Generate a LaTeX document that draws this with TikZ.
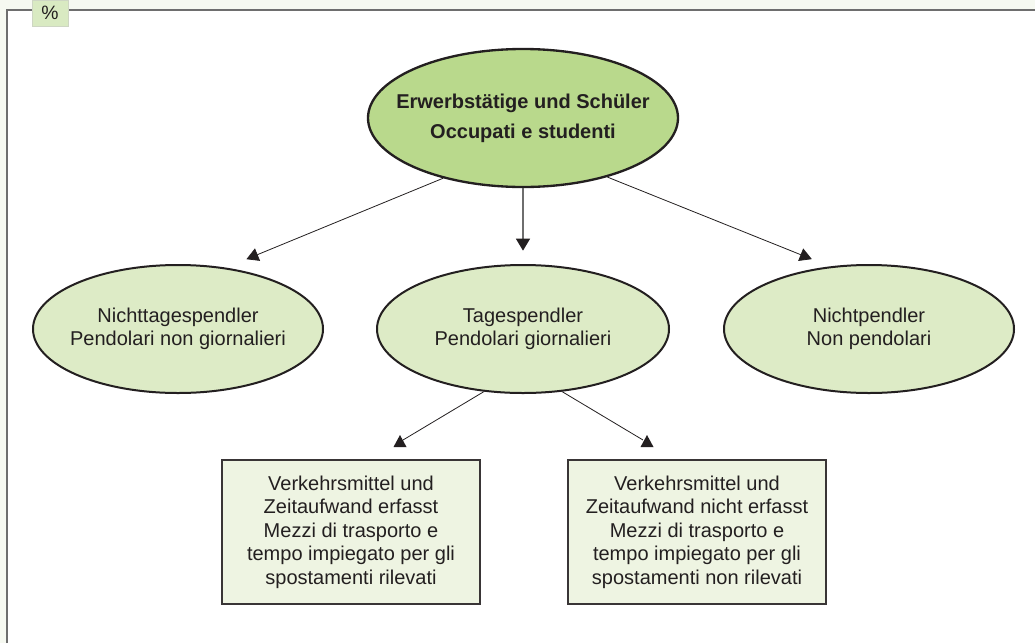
\documentclass[tikz,border=0pt]{standalone}
\usepackage{fontspec}
\setmainfont{Liberation Sans}
\usetikzlibrary{shapes.geometric,arrows.meta}
\definecolor{ink}{HTML}{231F20}
\definecolor{pagebg}{HTML}{F6F9F1}
\definecolor{framegray}{HTML}{6E6E6E}
\definecolor{tabgreen}{HTML}{D9EAC2}
\definecolor{topgreen}{HTML}{B9D98C}
\definecolor{ovalgreen}{HTML}{DDEBC6}
\definecolor{boxgreen}{HTML}{EEF4E2}

\begin{document}
\begin{tikzpicture}[x=0.75pt,y=-0.75pt,
  oval/.style={ellipse,draw=ink,line width=1.5pt,fill=ovalgreen,
    inner xsep=-10pt,inner ysep=0pt,minimum width=217.5pt,minimum height=96pt,
    align=center,text=ink,font=\fontsize{15}{17.25}\selectfont},
  topoval/.style={oval,fill=topgreen,line width=1.75pt,inner xsep=-30pt,
    minimum width=232.5pt,minimum height=103.5pt,
    font=\bfseries\fontsize{15}{22.5}\selectfont},
  infobox/.style={rectangle,draw=ink!90,line width=2pt,fill=boxgreen,
    minimum width=193.5pt,minimum height=108pt,align=center,text=ink,
    font=\fontsize{15}{17.6}\selectfont},
  link/.style={draw=ink,line width=0.6pt,-{Triangle[length=9pt,width=10pt]}}]
\useasboundingbox (0,0) rectangle (1035,643);

% page and frame
\fill[pagebg] (0,0) rectangle (1035,643);
\fill[white] (7,10) rectangle (1035,643);
\draw[framegray,line width=1.6pt] (7,643) -- (7,10) -- (1035,10);
\node[fill=tabgreen,draw=tabgreen!80!black!60,line width=0.4pt,
  minimum width=27pt,minimum height=19.5pt,inner sep=0pt,text=ink,
  font=\fontsize{14.5}{14.5}\selectfont] (pct) at (50,13) {\%};

% nodes
\node[topoval] (all) at (523,118) {Erwerbst\"atige und Sch\"uler\\Occupati e studenti};
\node[oval] (nontag) at (178,329) {Nichttagespendler\\Pendolari non giornalieri};
\node[oval,minimum width=219pt] (tag) at (523,329) {Tagespendler\\Pendolari giornalieri};
\node[oval] (nonpend) at (869,329) {Nichtpendler\\Non pendolari};
\node[infobox] (erf) at (351,532) {Verkehrsmittel und\\Zeitaufwand erfasst\\Mezzi di trasporto e\\tempo impiegato per gli\\spostamenti rilevati};
\node[infobox] (nerf) at (697,532) {Verkehrsmittel und\\Zeitaufwand nicht erfasst\\Mezzi di trasporto e\\tempo impiegato per gli\\spostamenti non rilevati};

% arrows from the top
\draw[link,shorten >=16.6pt] (all.217) -- (nontag.52);
\draw[link,draw=framegray,line width=1pt,-{Triangle[length=9pt,width=10.5pt,ink]},
  shorten >=10pt] (all.south) -- (tag.north);
\draw[link,shorten >=14.6pt] (all.325) -- (nonpend.122);

% arrows to the boxes
\coordinate (erftip) at (400,447);
\coordinate (nerftip) at (647,447);
\draw[ink,line width=0.6pt] (tag.238) -- ([shift={(3,-7)}]erftip);
\draw[ink,line width=0.6pt] (tag.302) -- ([shift={(-4,-7)}]nerftip);
\fill[ink] (erftip) ++(-6.5,0) -- ++(13,0) -- ++(-6.5,-12) -- cycle;
\fill[ink] (nerftip) ++(-6.5,0) -- ++(13,0) -- ++(-6.5,-12) -- cycle;
\end{tikzpicture}
\end{document}
